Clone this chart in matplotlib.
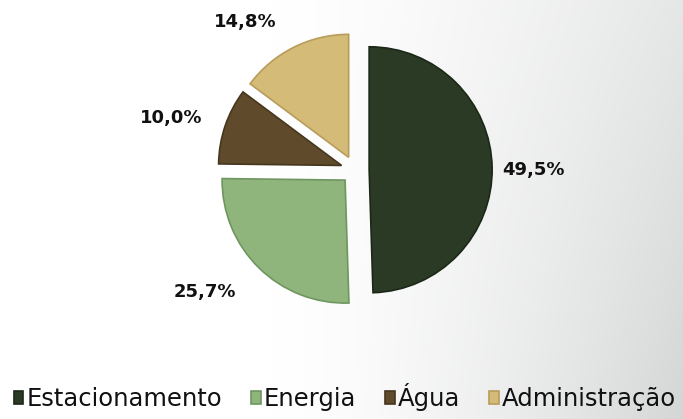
import matplotlib.pyplot as plt
import numpy as np

# Data
categories = ['Estacionamento', 'Energia', 'Água', 'Administração']
shares = [49.5, 25.7, 10.0, 14.8]
colors = ['#2b3a24', '#8fb47c', '#5f4b2c', '#d5bb78']
edge_colors = ['#1c2817', '#6f9660', '#45361d', '#b89c5a']

# label nudges (angle offset in degrees, distance in radii)
label_angle_shift = [-0.9, -6.5, 2.8, 10.0]
label_dist = [1.45, 1.57, 1.55, 1.50]

fig = plt.figure(figsize=(6.83, 4.19), dpi=100)

# Background gradient (white on the left fading to light grey on the right)
bg = fig.add_axes([0, 0, 1, 1])
xx, yy = np.meshgrid(np.linspace(0, 1, 300), np.linspace(0, 1, 200))
shade = np.clip((xx - 0.4) / 0.6, 0, 1) ** 1.4 * (0.6 + 0.4 * yy)
img = 1 - 0.16 * shade
bg.imshow(np.dstack([img - 0.005 * shade, img, img]).clip(0, 1),
          extent=[0, 1, 0, 1], aspect='auto', origin='upper')
bg.axis('off')

# Pie, 1 data unit = pie radius (~123 px)
ax = fig.add_axes([0, 0, 1, 1])
ax.patch.set_alpha(0)
wedges, texts, autotexts = ax.pie(
    shares, colors=colors, startangle=90, counterclock=False,
    explode=[0.115] * 4, radius=1.0,
    autopct=lambda p: f'{p:.1f}%'.replace('.', ','), pctdistance=1.38,
    wedgeprops=dict(linewidth=1.2),
    textprops=dict(fontsize=13, fontweight='bold', color='#111111'))
for w, ec in zip(wedges, edge_colors):
    w.set_edgecolor(ec)

# move the percentage labels a little, as in the original layout
for w, t, da, d in zip(wedges, autotexts, label_angle_shift, label_dist):
    ang = np.deg2rad((w.theta1 + w.theta2) / 2 + da)
    t.set_position((d * np.cos(ang), d * np.sin(ang)))

cx, cy = 355, 419 - 170
r = 123
ax.set_xlim(-cx / r, (683 - cx) / r)
ax.set_ylim(-cy / r, (419 - cy) / r)
ax.set_aspect('equal')
ax.axis('off')

leg = fig.legend(wedges, categories, loc='center', bbox_to_anchor=(0.505, 0.052),
                 ncol=4, frameon=False, handlelength=0.4,
                 handleheight=0.4, handletextpad=0.12, columnspacing=1.2,
                 prop=dict(family='DejaVu Sans', size=17.5))
for t in leg.get_texts():
    t.set_color('#111111')

fig.savefig('out.png', dpi=100)
